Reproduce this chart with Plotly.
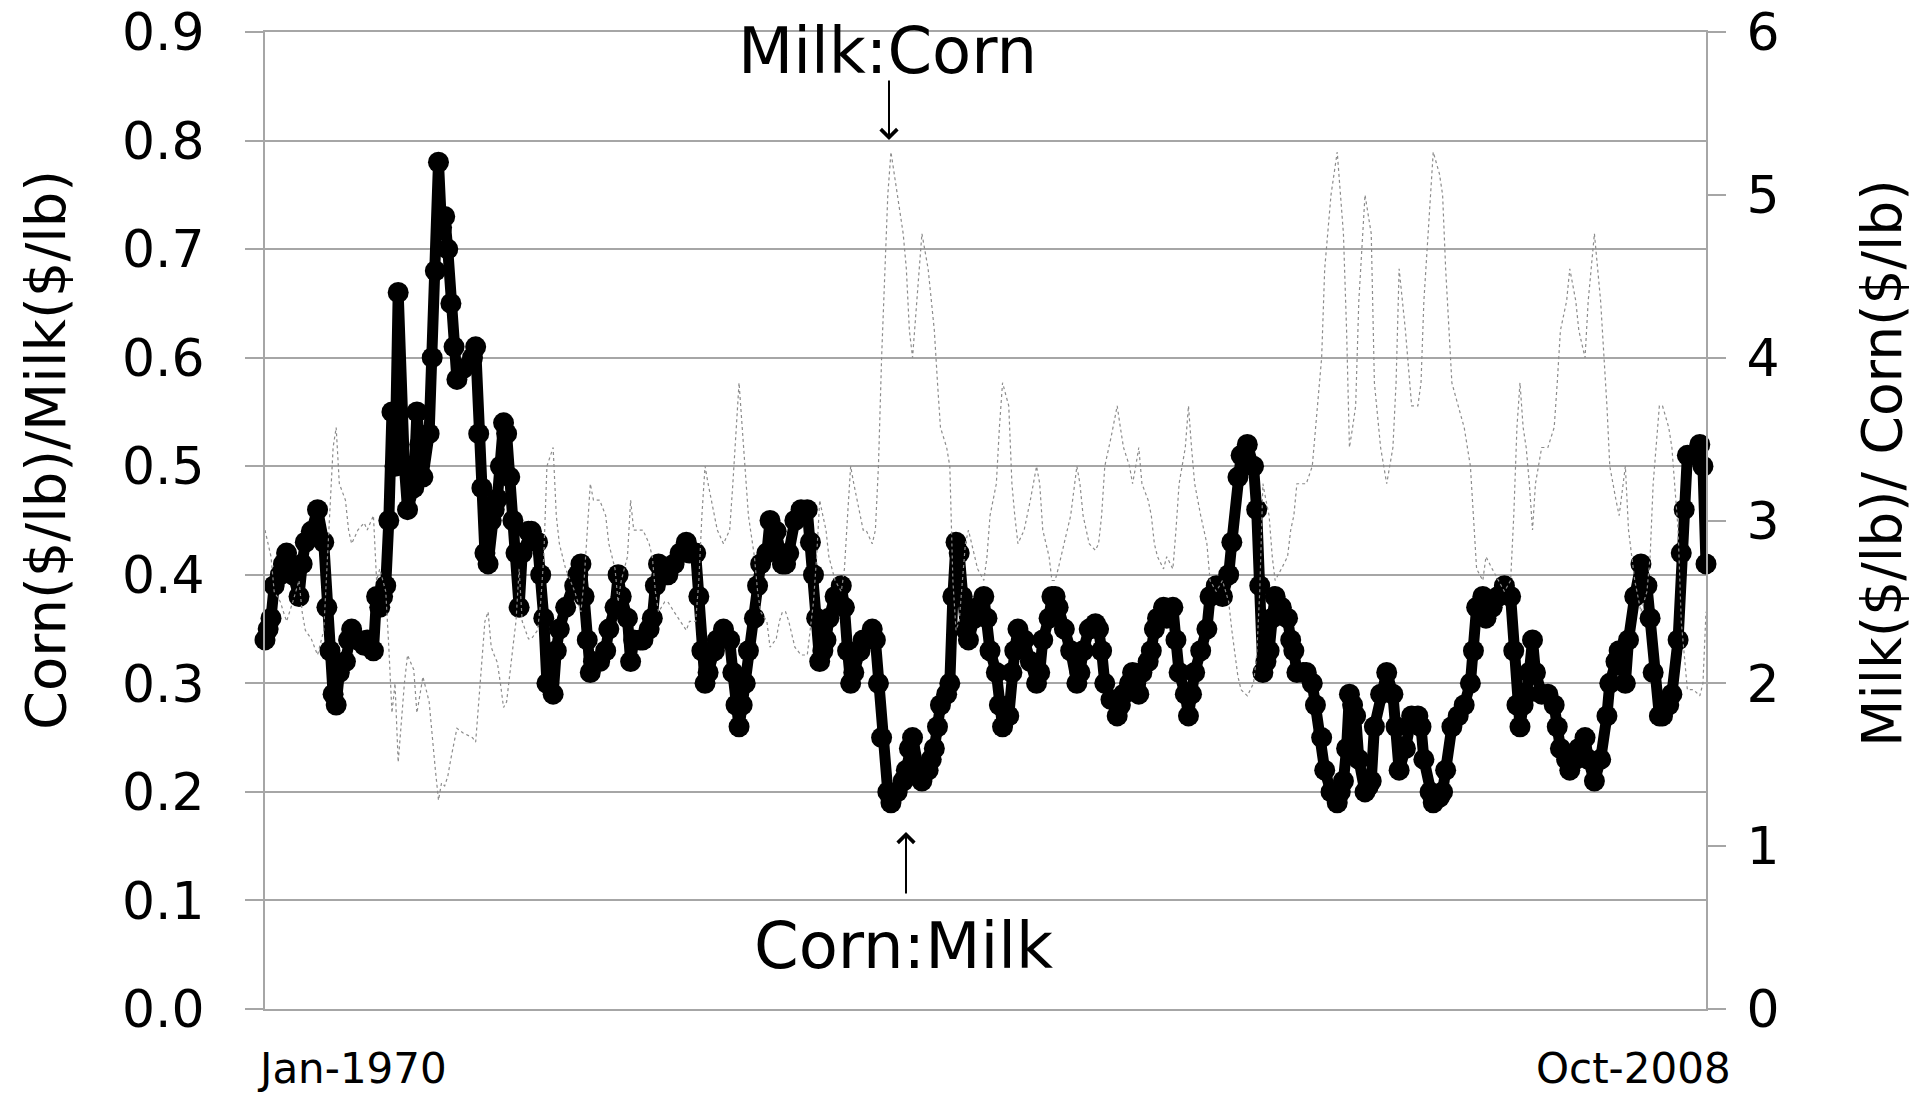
import pandas as pd
import plotly.graph_objects as go

# Months since Jan-1970 at which the Corn:Milk ratio was read
MONTHS = [0, 1, 2, 3, 5, 6, 7, 9, 11, 12, 13, 15, 17, 19, 20, 21, 22, 23, 24, 26,
          27, 28, 30, 32, 33, 35, 36, 37, 38, 39, 40, 41, 42, 43, 45, 46, 48, 49, 50, 51,
          53, 54, 55, 56, 57, 58, 59, 60, 61, 62, 64, 67, 68, 69, 70, 71, 72, 73, 74, 75,
          76, 77, 78, 79, 80, 81, 82, 83, 85, 86, 88, 89, 90, 91, 93, 94, 95, 97, 100, 101,
          102, 103, 104, 105, 106, 108, 110, 111, 113, 114, 115, 117, 118, 119, 121, 122, 124, 125, 126, 127,
          129, 130, 132, 134, 136, 137, 139, 140, 141, 142, 143, 145, 146, 148, 150, 151, 152, 153, 154, 155,
          156, 158, 159, 160, 162, 163, 165, 166, 167, 168, 169, 171, 173, 175, 176, 177, 178, 179, 180, 181,
          182, 184, 186, 187, 188, 189, 190, 192, 193, 194, 196, 197, 198, 199, 201, 202, 204, 206, 207, 208,
          209, 211, 212, 214, 215, 216, 217, 218, 220, 221, 222, 223, 224, 225, 226, 227, 229, 230, 232, 233,
          234, 236, 237, 238, 240, 241, 242, 243, 245, 247, 249, 250, 251, 253, 254, 255, 256, 258, 260, 262,
          263, 264, 266, 268, 269, 270, 271, 273, 275, 276, 277, 279, 280, 281, 282, 283, 285, 286, 287, 288,
          290, 291, 293, 294, 295, 297, 298, 299, 300, 302, 304, 305, 307, 309, 311, 312, 314, 315, 317, 319,
          320, 321, 322, 323, 324, 325, 326, 328, 330, 331, 332, 333, 335, 336, 338, 339, 341, 342, 344, 346,
          347, 348, 349, 350, 351, 352, 353, 355, 356, 357, 358, 360, 362, 364, 365, 366, 368, 370, 372, 373,
          374, 376, 377, 379, 380, 381, 383, 385, 387, 389, 390, 391, 393, 394, 396, 398, 400, 402, 403, 404,
          405, 406, 407, 408, 409, 410, 412, 414, 416, 417, 418, 420, 421, 423, 424, 426, 427, 429, 431, 433,
          434, 436, 437, 439, 440, 442, 444, 446, 447, 448, 450, 451, 453, 454, 456, 457, 458, 459, 461, 463,
          464, 465]

# Corn($/lb) / Milk($/lb)
CORN_MILK = [0.34, 0.35, 0.36, 0.39, 0.40, 0.41, 0.42, 0.40, 0.38, 0.41, 0.43, 0.44, 0.46, 0.43, 0.37, 0.33, 0.29, 0.28, 0.31, 0.32,
             0.34, 0.35, 0.34, 0.335, 0.34, 0.33, 0.38, 0.37, 0.38, 0.39, 0.45, 0.55, 0.50, 0.66, 0.50, 0.46, 0.48, 0.55, 0.52, 0.49,
             0.53, 0.60, 0.68, 0.78, 0.72, 0.73, 0.70, 0.65, 0.61, 0.58, 0.59, 0.60, 0.61, 0.53, 0.48, 0.42, 0.41, 0.45, 0.46, 0.47,
             0.50, 0.54, 0.53, 0.49, 0.45, 0.42, 0.37, 0.42, 0.44, 0.44, 0.43, 0.40, 0.36, 0.30, 0.29, 0.33, 0.35, 0.37, 0.39, 0.40,
             0.41, 0.38, 0.34, 0.31, 0.32, 0.32, 0.33, 0.35, 0.37, 0.40, 0.38, 0.36, 0.32, 0.34, 0.34, 0.34, 0.35, 0.36, 0.39, 0.41,
             0.40, 0.40, 0.41, 0.42, 0.43, 0.42, 0.42, 0.38, 0.33, 0.30, 0.31, 0.33, 0.34, 0.35, 0.34, 0.31, 0.28, 0.26, 0.28, 0.30,
             0.33, 0.36, 0.39, 0.41, 0.42, 0.45, 0.44, 0.42, 0.41, 0.41, 0.42, 0.45, 0.46, 0.46, 0.43, 0.40, 0.36, 0.32, 0.33, 0.34,
             0.36, 0.38, 0.39, 0.37, 0.33, 0.30, 0.31, 0.33, 0.34, 0.34, 0.35, 0.34, 0.30, 0.25, 0.20, 0.19, 0.20, 0.21, 0.22, 0.24,
             0.25, 0.22, 0.21, 0.22, 0.23, 0.24, 0.26, 0.28, 0.29, 0.30, 0.38, 0.43, 0.42, 0.38, 0.35, 0.34, 0.36, 0.37, 0.38, 0.36,
             0.33, 0.31, 0.28, 0.26, 0.27, 0.31, 0.33, 0.35, 0.34, 0.32, 0.30, 0.31, 0.34, 0.36, 0.38, 0.38, 0.37, 0.35, 0.33, 0.30,
             0.31, 0.33, 0.35, 0.355, 0.35, 0.33, 0.30, 0.285, 0.27, 0.28, 0.29, 0.30, 0.31, 0.30, 0.29, 0.31, 0.32, 0.33, 0.35, 0.36,
             0.37, 0.36, 0.37, 0.34, 0.31, 0.29, 0.27, 0.29, 0.31, 0.33, 0.35, 0.38, 0.39, 0.38, 0.40, 0.43, 0.49, 0.51, 0.52, 0.50,
             0.46, 0.39, 0.31, 0.32, 0.33, 0.36, 0.38, 0.37, 0.36, 0.34, 0.33, 0.31, 0.31, 0.31, 0.30, 0.28, 0.25, 0.22, 0.20, 0.19,
             0.20, 0.21, 0.24, 0.29, 0.28, 0.27, 0.23, 0.20, 0.205, 0.21, 0.26, 0.29, 0.31, 0.29, 0.26, 0.22, 0.24, 0.27, 0.27, 0.26,
             0.23, 0.20, 0.19, 0.195, 0.20, 0.22, 0.26, 0.27, 0.28, 0.30, 0.33, 0.37, 0.38, 0.36, 0.37, 0.38, 0.39, 0.38, 0.33, 0.28,
             0.26, 0.28, 0.29, 0.31, 0.34, 0.31, 0.29, 0.29, 0.28, 0.26, 0.24, 0.23, 0.22, 0.23, 0.24, 0.25, 0.23, 0.21, 0.23, 0.27,
             0.30, 0.32, 0.33, 0.30, 0.34, 0.38, 0.41, 0.39, 0.36, 0.31, 0.27, 0.27, 0.28, 0.29, 0.34, 0.42, 0.46, 0.51, 0.51, 0.52,
             0.50, 0.41]

X_LABELS = ["Jan-1970", "Oct-2008"]
LEFT_TITLE = "Corn($/lb)/Milk($/lb)"
RIGHT_TITLE = "Milk($/lb)/ Corn($/lb)"

start = pd.Timestamp("1970-01-01")
dates = [(start + pd.DateOffset(months=int(m))).strftime("%Y-%m-%d") for m in MONTHS]
# Milk:Corn is the reciprocal of Corn:Milk
milk_corn = [1.0 / v for v in CORN_MILK]
x_end = (start + pd.DateOffset(months=int(MONTHS[-1]))).strftime("%Y-%m-%d")

GRID = "#a6a6a6"
FONT = "DejaVu Sans, Verdana, sans-serif"

fig = go.Figure()
fig.add_trace(go.Scatter(
    x=dates, y=milk_corn, yaxis="y2", mode="lines", name="Milk:Corn",
    line=dict(color="#8c8c8c", width=1.2, dash="dot"), hoverinfo="x+y"))
fig.add_trace(go.Scatter(
    x=dates, y=CORN_MILK, mode="lines+markers", name="Corn:Milk",
    line=dict(color="black", width=11),
    marker=dict(color="black", size=21), cliponaxis=False))

# pixel -> paper helpers for the plot area
L, R, T, B = 265, 1706, 32, 1009
def px(xp):
    return (xp - L) / (R - L)
def py(yp):
    return (B - yp) / (B - T)

def label(text, x, y, size, angle=0):
    return dict(text=text, x=px(x), y=py(y), xref="paper", yref="paper",
                showarrow=False, textangle=angle,
                font=dict(size=size, family=FONT, color="black"),
                xanchor="center", yanchor="middle")

annotations = [
    label("Milk:Corn", 887, 51, 64),
    dict(text="", x=px(889), y=py(140), xref="paper", yref="paper",
         showarrow=True, ax=0, ay=-61, arrowhead=4, arrowsize=1.6,
         arrowwidth=2, arrowcolor="black"),
    label("Corn:Milk", 903, 946, 64),
    dict(text="", x=px(906), y=py(832), xref="paper", yref="paper",
         showarrow=True, ax=0, ay=63, arrowhead=4, arrowsize=1.6,
         arrowwidth=2, arrowcolor="black"),
    label(X_LABELS[0], 351.5, 1068, 42),
    label(X_LABELS[1], 1633.5, 1068, 42),
    label(LEFT_TITLE, 46, 450, 56, -90),
    label(RIGHT_TITLE, 1882, 463, 55, -90),
]

fig.update_layout(
    width=1913, height=1097,
    margin=dict(l=265, r=207, t=32, b=88, pad=0, autoexpand=False),
    paper_bgcolor="white", plot_bgcolor="white",
    showlegend=False,
    font=dict(family=FONT, color="black"),
    xaxis=dict(type="date", range=[dates[0], x_end], showgrid=False, zeroline=False,
               showline=True, mirror=True, linecolor=GRID, linewidth=2,
               ticks="", showticklabels=False, automargin=False),
    yaxis=dict(range=[0, 0.9], dtick=0.1, tick0=0, tickformat=".1f",
               showgrid=True, gridcolor=GRID, gridwidth=2, zeroline=False,
               showline=True, linecolor=GRID, linewidth=2,
               ticks="outside", ticklen=18, tickcolor=GRID, tickwidth=2,
               tickfont=dict(size=52, family=FONT, color="black"),
               ticklabelstandoff=30, automargin=False),
    yaxis2=dict(range=[0, 6], dtick=1, tick0=0, overlaying="y", side="right",
                showgrid=False, zeroline=False,
                showline=True, linecolor=GRID, linewidth=2,
                ticks="outside", ticklen=18, tickcolor=GRID, tickwidth=2,
                tickfont=dict(size=52, family=FONT, color="black"),
                ticklabelstandoff=10, automargin=False),
    annotations=annotations,
)

fig.write_html("out.html", config={"displayModeBar": False},
               post_script="document.body.style.margin='0';document.body.style.overflow='hidden';")
